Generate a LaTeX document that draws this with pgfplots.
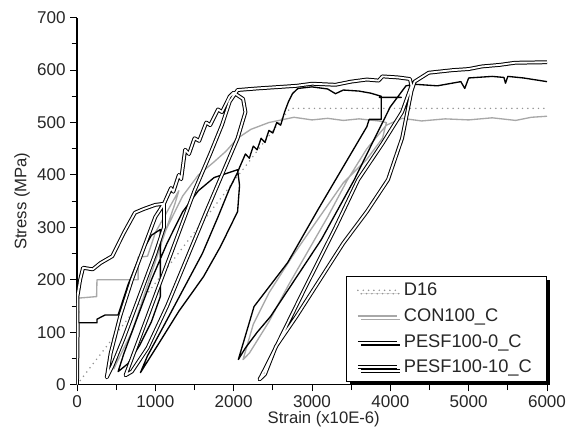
\documentclass[border=0pt]{standalone}
\usepackage{pgfplots}
\pgfplotsset{compat=1.18}
\usepackage{fontspec}
\setmainfont{Liberation Sans}
\usetikzlibrary{shadows}
\definecolor{dotgray}{gray}{0.58}
\definecolor{congray}{gray}{0.66}
\begin{document}
\begin{tikzpicture}
\useasboundingbox (-57.75pt,-35.25pt) rectangle (372pt,288.5pt);
\begin{axis}[
 at={(0,0)}, anchor=south west,
 scale only axis, width=352.5pt, height=275.25pt,
 xmin=0, xmax=6000, ymin=0, ymax=700,
 axis x line=bottom, axis y line=left,
 axis line style={-, line width=0.8pt},
 xtick={0,1000,...,6000}, ytick={0,100,...,700},
 minor x tick num=1, minor y tick num=1,
 tick align=outside, major tick length=5pt, minor tick length=4pt,
 tick style={black, line width=0.7pt},
 scaled ticks=false,
 /pgf/number format/assume math mode=true,
 /pgf/number format/1000 sep={},
 tick label style={font=\fontsize{12.8}{14}\selectfont, text=black!85},
 xlabel={Strain (x10E-6)}, ylabel={Stress (MPa)},
 label style={font=\fontsize{12.5}{14}\selectfont, text=black!85},
 xlabel style={at={(axis description cs:0.525,-0.0927)}, anchor=center},
 ylabel style={at={(axis description cs:-0.117,0.5)}, anchor=center},
 legend image code/.code={\draw[#1] (0pt,0pt) -- (29pt,0pt);},
 legend cell align=left,
 legend style={at={(axis description cs:1,0)}, anchor=south east, yshift=2pt,
   draw=black, line width=0.8pt, fill=white,
   drop shadow={shadow xshift=2.5pt, shadow yshift=-2.5pt, fill=black, opacity=1},
   font=\fontsize{13.7}{16}\selectfont, text=black!85,
   row sep=4.2pt, inner xsep=7pt, inner ysep=3pt,
   nodes={inner xsep=4pt}},
 every axis plot/.append style={line join=round},
]
% D16
\addplot[dotgray, line width=1.3pt, line cap=round, dash pattern=on 0pt off 4pt] coordinates {
(0,0) (2720,527) (6000,527)};
\addlegendentry{D16}
% CON100_C
\addplot[congray, line width=1pt] coordinates {
(0,0) (8,60) (3,120) (10,165) (250,168) (255,200) (780,200) (780,243) (900,245)
(1000,290) (1150,330) (1300,370)
(1250,345) (1100,280) (900,190) (700,100) (500,40) (470,30)
(550,70) (750,150) (950,230) (1150,300) (1350,360) (1550,400) (1750,425) (1900,445)
(2050,470) (2220,487) (2450,500) (2770,510) (3000,505) (3200,508) (3400,504) (3600,507)
(3850,503) (3950,500)
(3900,470) (3700,430) (3400,385) (3050,310) (2750,245) (2450,175) (2250,115) (2120,48)
(2200,60) (2450,120) (2700,190) (2950,255) (3200,320) (3450,390) (3700,450) (3950,495)
(4150,508) (4400,503) (4700,507) (5000,505) (5300,509) (5600,504) (5800,510) (6000,512)};
\addlegendentry{CON100\_C}
% PESF100-0_C
\addplot[black, line width=1pt] coordinates {
(0,0) (15,50) (5,90) (18,140) (8,118) (256,118) (256,125) (360,133) (525,133) (650,190)
(800,245) (950,285) (1064,296)
(1064,168) (950,120) (800,75) (650,40) (525,25)
(600,60) (750,120) (950,200) (1150,270) (1350,330) (1550,370) (1750,395) (1950,405)
(2050,410)
(2075,380) (2050,330) (1830,263) (1615,206) (1300,140) (1050,80) (810,23)
(900,55) (1100,110) (1350,180) (1600,250) (1800,320) (1950,375) (2050,405) (2080,416)
(2150,440) (2200,432) (2250,455) (2300,448) (2350,470) (2400,462) (2450,485) (2500,480)
(2550,500) (2600,495) (2650,520) (2700,540) (2750,555) (2820,565)
(3000,568) (3200,564) (3300,555) (3400,562) (3600,560) (3750,556) (3885,550) (3860,548)
(4140,548) (3885,548) (3885,506) (3730,506) (3700,492) (3077,334) (2690,233) (2260,149)
(2060,48)
(2150,70) (2300,100) (2470,130) (3120,277) (3540,391) (3800,470) (4000,530) (4200,570)
(4310,573) (4600,570) (4900,578) (4950,565) (5000,585) (5300,588) (5450,586) (5470,575)
(5500,588) (5700,585) (6000,578)};
\addlegendentry{PESF100-0\_C}
% PESF100-10_C
\addplot[black, line width=0.75pt, double=white, double distance=1.4pt] coordinates {
(0,0) (8,100) (5,168) (40,200) (77,223) (200,220) (300,232) (450,245) (600,290)
(740,328) (850,335) (1000,343) (1110,345) (1110,300)
(1000,250) (800,170) (600,90) (450,35) (380,14)
(430,60) (550,130) (700,200) (850,260) (1000,320) (1110,345) (1200,375) (1230,368)
(1300,400) (1330,392) (1380,448) (1430,440) (1500,470) (1560,465) (1650,500) (1700,495)
(1800,525) (1850,520) (1950,550) (2000,557)
(2120,545) (2150,520) (2050,470) (1850,400) (1650,330) (1400,240) (1150,150) (900,70)
(700,25) (620,18)
(700,50) (900,130) (1100,210) (1300,290) (1500,370) (1700,440) (1850,495) (1950,540)
(2050,562)
(2300,565) (2600,568) (2800,570) (3000,574) (3300,572) (3500,578) (3700,582) (3850,580)
(3900,588) (4100,586) (4250,583)
(4270,570) (4150,520) (3900,460) (3590,391) (3300,300) (2900,181) (2600,90) (2400,30)
(2330,10)
(2400,20) (2540,73) (2800,130) (3100,200) (3400,270) (3700,330) (3970,391) (4150,470)
(4270,560) (4310,578)
(4490,595) (4800,600) (5000,602) (5170,607) (5400,610) (5590,614) (6000,615)};
\addlegendentry{PESF100-10\_C}
\end{axis}
\end{tikzpicture}
\end{document}
